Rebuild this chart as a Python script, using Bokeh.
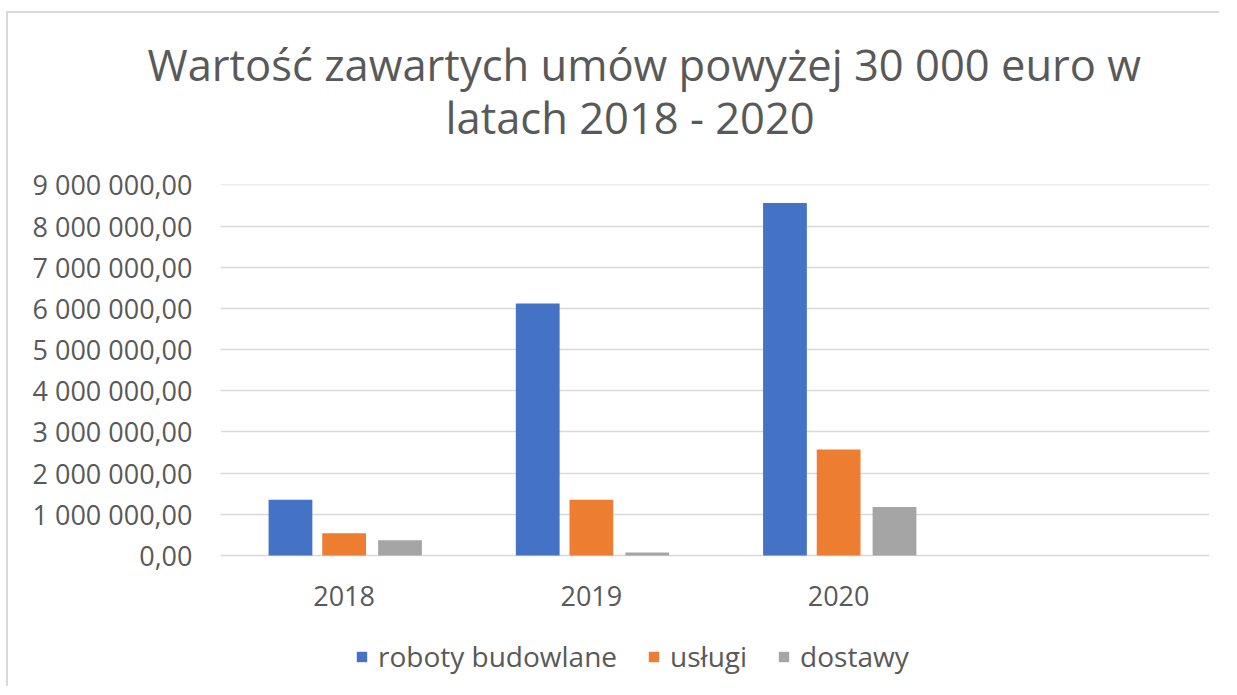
from bokeh.plotting import figure
from bokeh.models import FactorRange, FixedTicker, Legend, LegendItem, Title, Range1d
from bokeh.transform import dodge
from bokeh.embed import file_html
from bokeh.resources import INLINE

years = ["2018", "2019", "2020", " "]
series = ["roboty budowlane", "usługi", "dostawy"]
roboty = [1355000, 6120000, 8560000, 0]
uslugi = [540000, 1355000, 2575000, 0]
dostawy = [370000, 73000, 1180000, 0]
colors = ["#4472C4", "#ED7D31", "#A5A5A5"]
y_ticks = [0, 1000000, 2000000, 3000000, 4000000, 5000000, 6000000, 7000000, 8000000, 9000000]
y_labels = ["0,00", "1 000 000,00", "2 000 000,00", "3 000 000,00", "4 000 000,00",
            "5 000 000,00", "6 000 000,00", "7 000 000,00", "8 000 000,00", "9 000 000,00"]

FONT = "Open Sans"
GREY = "#595959"

# frame extends below the zero line so that the axis labels and legend sit inside it
p = figure(x_range=FactorRange(factors=years, range_padding=0), y_range=Range1d(-3130000, 9008000),
           frame_width=989, frame_height=500, output_backend="svg", toolbar_location=None,
           min_border_left=212, min_border_right=10, min_border_top=171, min_border_bottom=2)
p.margin = (11, 0, 0, 6)
p.styles = {"border-left": "2px solid #D9D9D9", "border-top": "2px solid #D9D9D9"}

src = dict(year=years, r=roboty, u=uslugi, d=dostawy)
offsets = [-0.217, 0.0, 0.226]
keys = ["r", "u", "d"]
renderers = []
for k, off, c in zip(keys, offsets, colors):
    r = p.vbar(x=dodge("year", off, range=p.x_range), top=k, width=0.177, source=src,
               fill_color=c, line_color=None)
    renderers.append(r)

p.yaxis.ticker = FixedTicker(ticks=y_ticks)
p.yaxis.major_label_overrides = {t: l for t, l in zip(y_ticks, y_labels)}
p.xaxis.fixed_location = 0
for ax in (p.xaxis, p.yaxis):
    ax.axis_line_color = None
    ax.major_tick_line_color = None
    ax.minor_tick_line_color = None
    ax.major_tick_out = 0
    ax.major_tick_in = 0
    ax.minor_tick_out = 0
    ax.major_label_text_font = FONT
    ax.major_label_text_font_size = "27px"
    ax.major_label_text_color = GREY
p.yaxis.major_label_standoff = 28
p.xaxis.major_label_standoff = 21

p.xgrid.grid_line_color = None
p.ygrid.grid_line_color = "#D9D9D9"
p.ygrid.grid_line_width = 1.5
p.outline_line_color = None

legend = Legend(items=[LegendItem(label=s, renderers=[r]) for s, r in zip(series, renderers)],
                orientation="horizontal", location=(135, 9),
                label_text_font=FONT, label_text_font_size="28px", label_text_color=GREY,
                glyph_width=13, glyph_height=13, spacing=30, label_standoff=10,
                border_line_color=None, background_fill_alpha=0, margin=0, padding=0)
p.add_layout(legend, "center")

p.add_layout(Title(text="latach 2018 - 2020", align="left", offset=225, text_font=FONT,
                   text_font_size="43.5px", text_color=GREY, text_font_style="normal",
                   standoff=76), "above")
p.add_layout(Title(text="Wartość zawartych umów powyżej 30 000 euro w", align="left", offset=-73,
                   text_font=FONT, text_font_size="43.5px", text_color=GREY,
                   text_font_style="normal", standoff=-92), "above")

open("out.html", "w").write(file_html(p, INLINE))
